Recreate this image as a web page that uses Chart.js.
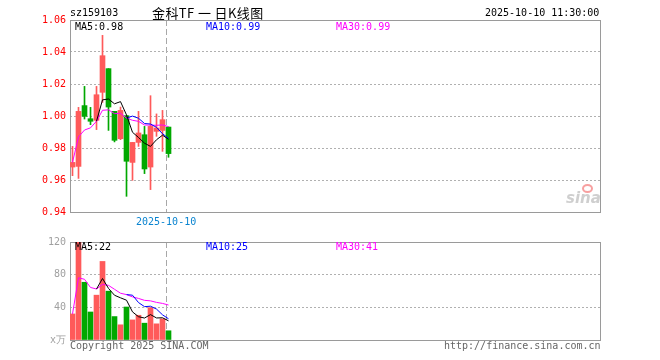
<!DOCTYPE html>
<html>
<head>
<meta charset="utf-8">
<script src="https://cdn.jsdelivr.net/npm/chart.js@4.4.1/dist/chart.umd.min.js"></script>
<style>
  html, body { margin: 0; padding: 0; background: #fff; }
  #wrap { position: relative; width: 660px; height: 360px; overflow: hidden; background: #fff; }
  canvas { position: absolute; left: 0; }
  .t { position: absolute; font-family: "DejaVu Sans Mono", monospace; font-size: 10px; line-height: 12px; white-space: pre; }
</style>
</head>
<body>
<div id="wrap">
  <canvas id="k" width="660" height="232" style="top:0;width:660px;height:232px"></canvas>
  <canvas id="v" width="660" height="128" style="top:232px;width:660px;height:128px"></canvas>
  <div class="t" style="left:70px;top:7px;color:#000">sz159103</div>
  <div class="t" style="left:152px;top:5px;font-family:'Noto Sans CJK SC',sans-serif;font-size:13px;line-height:16px;color:#000;letter-spacing:0.4px">金科TF 一 日K线图</div>
  <div class="t" style="left:485px;top:7px;color:#000">2025-10-10 11:30:00</div>
  <div class="t" id="lk5" style="left:75px;top:21px;color:#000"></div>
  <div class="t" id="lk10" style="left:206px;top:21px;color:#0000ff"></div>
  <div class="t" id="lk30" style="left:336px;top:21px;color:#ff00ff"></div>
  <div class="t" id="lv5" style="left:75px;top:241px;color:#000"></div>
  <div class="t" id="lv10" style="left:206px;top:241px;color:#0000ff"></div>
  <div class="t" id="lv30" style="left:336px;top:241px;color:#ff00ff"></div>
  <div class="t" style="left:70px;top:340px;color:#666">Copyright 2025 SINA.COM</div>
  <div class="t" style="left:444px;top:340px;color:#666">http://finance.sina.com.cn</div>
  <div style="position:absolute;left:582px;top:184px;width:7px;height:5px;border:2px solid #f7a0a0;border-radius:50%"></div>
  <div style="position:absolute;left:566px;top:190px;font-family:'DejaVu Sans',sans-serif;font-style:italic;font-weight:bold;font-size:15px;line-height:16px;color:#cfcfcf">sina</div>
</div>
<script>
// ---- data ----
const markerDate = '2025-10-10';
const openP  = [0.9681,0.9685,1.0065,0.9983,0.9973,1.0148,1.0296,1.0029,0.9858,1.0002,0.9710,0.9835,0.9883,0.9681,0.9904,0.9910,0.9931];
const highP  = [0.9810,1.0054,1.0185,1.0054,1.0185,1.0504,1.0296,1.0029,1.0056,1.0002,0.9835,1.0029,0.9935,1.0127,1.0013,1.0035,0.9931];
const lowP   = [0.9627,0.9610,0.9981,0.9946,0.9915,1.0085,0.9910,0.9838,0.9852,0.9498,0.9598,0.9810,0.9640,0.9540,0.9873,0.9779,0.9742];
const closeP = [0.9710,1.0029,0.9998,0.9967,1.0133,1.0377,1.0056,0.9848,1.0035,0.9717,0.9835,0.9894,0.9669,0.9935,0.9925,0.9977,0.9765];
const volume = [31.9,120.4,70.7,34.3,54.9,96.2,59.8,28.7,18.6,40.4,24.6,30.3,20.6,39.6,19.8,25.9,11.3];
const priceTicks = [0.94,0.96,0.98,1.00,1.02,1.04,1.06];
const volTicks = [0,40,80,120];
const volUnitLabel = 'x万';
const priceLegend = ['MA5:0.98','MA10:0.99','MA30:0.99'];
const volLegend = ['MA5:22','MA10:25','MA30:41'];
const totalSlots = 88.333;

// ---- styles ----
const RED = '#ff5a5a', GREEN = '#00a800';
const n = closeP.length;
const colors = closeP.map((c, i) => c >= openP[i] ? RED : GREEN);

document.getElementById('lk5').textContent = priceLegend[0];
document.getElementById('lk10').textContent = priceLegend[1];
document.getElementById('lk30').textContent = priceLegend[2];
document.getElementById('lv5').textContent = volLegend[0];
document.getElementById('lv10').textContent = volLegend[1];
document.getElementById('lv30').textContent = volLegend[2];

// moving averages (MA30 uses the available history while fewer than 30 days exist)
function ma(arr, p, partial) {
  const out = [];
  for (let i = 0; i < arr.length; i++) {
    if (i + 1 < p && !partial) continue;
    const s = Math.max(0, i - p + 1);
    let sum = 0;
    for (let j = s; j <= i; j++) sum += arr[j];
    out.push({x: i, y: sum / (i - s + 1)});
  }
  return out;
}

const xMin = -0.4167, xMax = xMin + totalSlots;
const markerX = (n - 1) - 0.4;

const boxPlugin = {
  id: 'box',
  beforeDatasetsDraw(chart) {
    const a = chart.chartArea, ctx = chart.ctx;
    ctx.save();
    ctx.strokeStyle = '#9a9a9a';
    ctx.lineWidth = 1;
    ctx.strokeRect(Math.round(a.left) + 0.5, Math.round(a.top) + 0.5,
                   Math.round(a.right - a.left), Math.round(a.bottom - a.top));
    ctx.restore();
  }
};

function xAxis(showLabel) {
  return {
    type: 'linear', min: xMin, max: xMax, bounds: 'data', offset: false,
    afterBuildTicks(s) { s.ticks = [{value: markerX}]; },
    afterFit(s) { s.height = 20; },
    grid: { color: '#a8a8a8', lineWidth: 1, drawTicks: false, offset: false },
    border: { display: false, dash: [6, 3] },
    ticks: {
      display: showLabel, padding: 4, maxRotation: 0, autoSkip: false,
      color: '#0a84d0', font: { family: 'DejaVu Sans Mono', size: 10 },
      callback: () => markerDate
    }
  };
}

function yAxis(min, max, ticks, color, fmt) {
  return {
    type: 'linear', min, max, bounds: 'data', offset: false, beginAtZero: false,
    afterBuildTicks(s) { s.ticks = ticks.map(v => ({value: v})); },
    afterFit(s) { s.width = 70; },
    grid: {
      drawTicks: false, lineWidth: 1, offset: false,
      color: c => (c.tick && (Math.abs(c.tick.value - min) < 1e-9 || Math.abs(c.tick.value - max) < 1e-9)) ? 'rgba(0,0,0,0)' : '#b0b0b0'
    },
    border: { display: false, dash: [2, 2] },
    ticks: { padding: 4, color, font: { family: 'DejaVu Sans Mono', size: 10 }, callback: fmt }
  };
}

const common = {
  responsive: false, animation: false, devicePixelRatio: 1,
  plugins: { legend: { display: false }, tooltip: { enabled: false } },
  events: []
};

new Chart(document.getElementById('k'), {
  type: 'bar',
  data: {
    datasets: [
      { type: 'line', order: 0, data: ma(closeP, 5, false), borderColor: '#000', borderWidth: 1, pointRadius: 0, tension: 0 },
      { type: 'line', order: 0, data: ma(closeP, 10, false), borderColor: '#0000ff', borderWidth: 1, pointRadius: 0, tension: 0 },
      { type: 'line', order: 0, data: ma(closeP, 30, true), borderColor: '#ff00ff', borderWidth: 1, pointRadius: 0, tension: 0 },
      { order: 1, grouped: false, barThickness: 5, borderWidth: 0, backgroundColor: colors,
        data: openP.map((o, i) => ({x: i, y: [o, closeP[i]]})) },
      { order: 2, grouped: false, barThickness: 1, borderWidth: 0, backgroundColor: colors,
        data: lowP.map((l, i) => ({x: i, y: [l, highP[i]]})) }
    ]
  },
  options: Object.assign({}, common, {
    layout: { padding: { left: 0, right: 60, top: 20, bottom: 0 } },
    scales: {
      x: xAxis(true),
      y: yAxis(0.94, 1.06, priceTicks, '#ff0000', v => Number(v).toFixed(2))
    }
  }),
  plugins: [boxPlugin]
});

new Chart(document.getElementById('v'), {
  type: 'bar',
  data: {
    datasets: [
      { type: 'line', order: 0, data: ma(volume, 5, false), borderColor: '#000', borderWidth: 1, pointRadius: 0, tension: 0 },
      { type: 'line', order: 0, data: ma(volume, 10, false), borderColor: '#0000ff', borderWidth: 1, pointRadius: 0, tension: 0 },
      { type: 'line', order: 0, data: ma(volume, 30, true), borderColor: '#ff00ff', borderWidth: 1, pointRadius: 0, tension: 0 },
      { order: 1, grouped: false, barThickness: 5, borderWidth: 0, backgroundColor: colors,
        data: volume.map((v, i) => ({x: i, y: v})) }
    ]
  },
  options: Object.assign({}, common, {
    layout: { padding: { left: 0, right: 60, top: 8, bottom: 0 } },
    scales: {
      x: xAxis(false),
      y: yAxis(0, 120, volTicks, '#a0a0a0', v => v === 0 ? volUnitLabel : String(v))
    }
  }),
  plugins: [boxPlugin]
});
</script>
</body>
</html>
